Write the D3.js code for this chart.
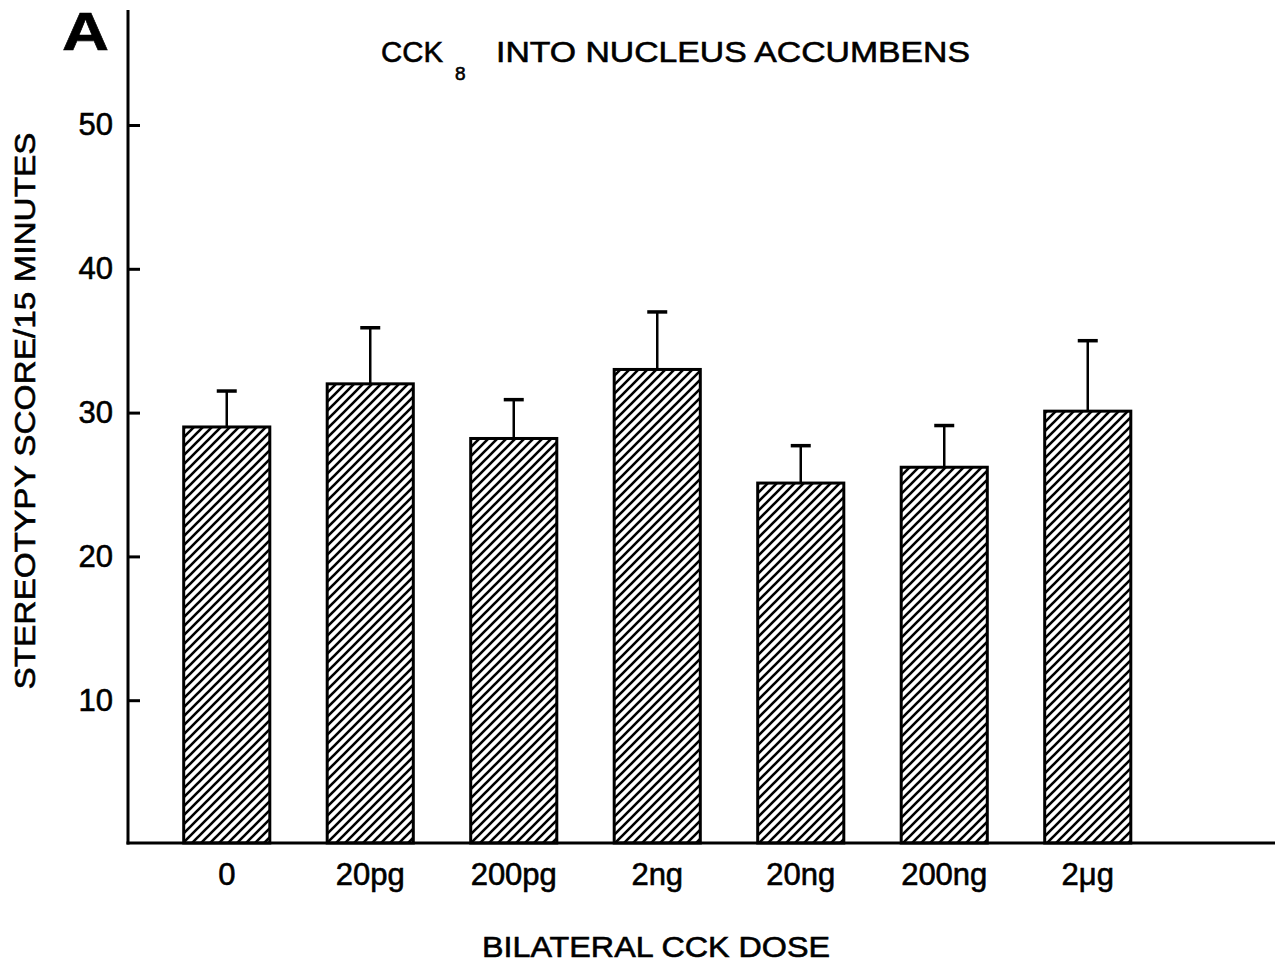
<!DOCTYPE html>
<html>
<head>
<meta charset="utf-8">
<script src="https://cdn.jsdelivr.net/npm/d3@7"></script>
<style>
  body { margin: 0; background: #fff; }
  svg text { font-family: "Liberation Sans", Arial, Helvetica, sans-serif; fill: #000; stroke: #000; stroke-width: 0.6px; }
</style>
</head>
<body>
<div id="chart"></div>
<script>
// dose groups along the x axis
var doses = ['0', '20pg', '200pg', '2ng', '20ng', '200ng', '2\u03bcg'];
// mean stereotypy score per group
var means = [29.0, 32.0, 28.2, 33.0, 25.1, 26.2, 30.1];
// standard error (drawn upward only)
var sems = [2.5, 3.9, 2.7, 4.0, 2.6, 2.9, 4.9];
var yTicks = [10, 20, 30, 40, 50];

var width = 1275, height = 966;

var svg = d3.select('#chart')
  .append('svg')
  .attr('width', width)
  .attr('height', height);

// hatch fill for the bars
var defs = svg.append('defs');
defs.append('pattern')
  .attr('id', 'hatch')
  .attr('patternUnits', 'userSpaceOnUse')
  .attr('width', 9)
  .attr('height', 9)
  .append('path')
  .attr('d', 'M-2,2 l4,-4 M0,9 l9,-9 M7,11 l4,-4')
  .attr('stroke', '#000')
  .attr('stroke-width', 2.6);

var x = d3.scaleBand()
  .domain(doses)
  .range([155, 155 + 7 * 143.5])
  .paddingInner(0.4)
  .paddingOuter(0.2);

var y = d3.scaleLinear()
  .domain([0, 50])
  .range([844, 125]);

var axisX = 128, baseY = 843;

// bars
svg.selectAll('.bar')
  .data(means)
  .enter().append('rect')
  .attr('class', 'bar')
  .attr('x', function(d, i) { return x(doses[i]); })
  .attr('y', function(d) { return y(d); })
  .attr('width', x.bandwidth())
  .attr('height', function(d) { return baseY - y(d); })
  .attr('fill', 'url(#hatch)')
  .attr('stroke', '#000')
  .attr('stroke-width', 3);

// error bars
var err = svg.selectAll('.err')
  .data(means)
  .enter().append('g')
  .attr('class', 'err');

err.append('line')
  .attr('x1', function(d, i) { return x(doses[i]) + x.bandwidth() / 2; })
  .attr('x2', function(d, i) { return x(doses[i]) + x.bandwidth() / 2; })
  .attr('y1', function(d) { return y(d); })
  .attr('y2', function(d, i) { return y(d + sems[i]); })
  .attr('stroke', '#000')
  .attr('stroke-width', 2.5);

err.append('line')
  .attr('x1', function(d, i) { return x(doses[i]) + x.bandwidth() / 2 - 10; })
  .attr('x2', function(d, i) { return x(doses[i]) + x.bandwidth() / 2 + 10; })
  .attr('y1', function(d, i) { return y(d + sems[i]); })
  .attr('y2', function(d, i) { return y(d + sems[i]); })
  .attr('stroke', '#000')
  .attr('stroke-width', 3.5);

// y axis, ticks pointing inward
var gy = svg.append('g')
  .attr('transform', 'translate(' + axisX + ',0)')
  .call(d3.axisLeft(y).tickValues(yTicks).tickSizeInner(-12).tickSizeOuter(0).tickPadding(15));
gy.select('.domain').remove();
gy.selectAll('.tick line').attr('stroke', '#000').attr('stroke-width', 3);
gy.selectAll('.tick text')
  .attr('font-size', 31)
  .attr('font-family', '"Liberation Sans", Arial, sans-serif')
  .attr('fill', '#000');

svg.append('line')
  .attr('x1', axisX).attr('x2', axisX)
  .attr('y1', 10).attr('y2', baseY + 1.5)
  .attr('stroke', '#000').attr('stroke-width', 3);

// x axis
var gx = svg.append('g')
  .attr('transform', 'translate(0,' + baseY + ')')
  .call(d3.axisBottom(x).tickSize(0).tickPadding(20));
gx.select('.domain').remove();
gx.selectAll('.tick text')
  .attr('font-size', 31)
  .attr('font-family', '"Liberation Sans", Arial, sans-serif')
  .attr('fill', '#000');

svg.append('line')
  .attr('x1', axisX - 1.5).attr('x2', width)
  .attr('y1', baseY).attr('y2', baseY)
  .attr('stroke', '#000').attr('stroke-width', 3);

// panel letter
svg.append('text')
  .attr('x', 62).attr('y', 50)
  .attr('font-size', 54)
  .attr('font-weight', 'bold')
  .attr('textLength', 47)
  .attr('lengthAdjust', 'spacingAndGlyphs')
  .text('A');

// title
svg.append('text')
  .attr('x', 381).attr('y', 62)
  .attr('font-size', 30)
  .attr('textLength', 62)
  .attr('lengthAdjust', 'spacingAndGlyphs')
  .text('CCK');
svg.append('text')
  .attr('x', 455).attr('y', 80)
  .attr('font-size', 19)
  .text('8');
svg.append('text')
  .attr('x', 496).attr('y', 62)
  .attr('font-size', 30)
  .attr('textLength', 474)
  .attr('lengthAdjust', 'spacingAndGlyphs')
  .text('INTO NUCLEUS ACCUMBENS');

// axis titles
svg.append('text')
  .attr('transform', 'translate(35,411) rotate(-90)')
  .attr('text-anchor', 'middle')
  .attr('font-size', 30)
  .attr('textLength', 557)
  .attr('lengthAdjust', 'spacingAndGlyphs')
  .text('STEREOTYPY SCORE/15 MINUTES');

svg.append('text')
  .attr('x', 656).attr('y', 957)
  .attr('text-anchor', 'middle')
  .attr('font-size', 30)
  .attr('textLength', 348)
  .attr('lengthAdjust', 'spacingAndGlyphs')
  .text('BILATERAL CCK DOSE');
</script>
</body>
</html>
